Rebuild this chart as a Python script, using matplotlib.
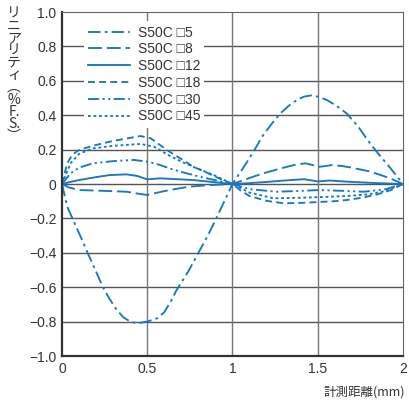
import numpy as np
import matplotlib
matplotlib.use('Agg')
import matplotlib.pyplot as plt

plt.rcParams['font.family'] = ['Liberation Sans', 'DejaVu Sans']
plt.rcParams['lines.scale_dashes'] = False

# data
x5 = [0, 0.03, 0.07, 0.12, 0.15, 0.20, 0.24, 0.28, 0.32, 0.36, 0.40, 0.44, 0.50, 0.56, 0.60, 0.64, 0.67,
      0.74, 0.80, 0.85, 0.90, 0.95, 1.0,
      1.04, 1.08, 1.13, 1.18, 1.23, 1.28, 1.33, 1.38, 1.42, 1.46, 1.50, 1.55, 1.61, 1.67, 1.74, 1.80, 1.86,
      1.92, 1.96, 2.0]
y5 = [0, -0.13, -0.22, -0.33, -0.40, -0.51, -0.60, -0.67, -0.73, -0.775, -0.80, -0.81, -0.80, -0.78, -0.745,
      -0.68, -0.62, -0.51, -0.40, -0.31, -0.21, -0.105, 0,
      0.06, 0.12, 0.20, 0.285, 0.35, 0.41, 0.455, 0.49, 0.508, 0.515, 0.508, 0.49, 0.455, 0.41, 0.33, 0.245,
      0.17, 0.10, 0.05, 0]

x8 = [0, 0.04, 0.1, 0.25, 0.38, 0.44, 0.5, 0.56, 0.63, 0.75, 0.87, 1.0, 1.1, 1.18, 1.30, 1.38, 1.43, 1.47,
      1.51, 1.55, 1.58, 1.64, 1.70, 1.81, 1.92, 2.0]
y8 = [0, -0.02, -0.035, -0.04, -0.045, -0.055, -0.064, -0.05, -0.035, -0.015, -0.006, 0, 0.035, 0.062,
      0.095, 0.115, 0.12, 0.11, 0.10, 0.105, 0.11, 0.105, 0.095, 0.072, 0.035, 0]

x12 = [0, 0.05, 0.1, 0.2, 0.28, 0.38, 0.44, 0.5, 0.575, 0.77, 0.9, 1.0, 1.1, 1.2, 1.3, 1.42, 1.5, 1.57,
       1.7, 1.85, 2.0]
y12 = [0, 0.012, 0.023, 0.04, 0.052, 0.056, 0.047, 0.027, 0.033, 0.023, 0.01, 0, 0.005, 0.012, 0.02,
       0.028, 0.015, 0.02, 0.012, 0.005, 0]

x18 = [0, 0.03, 0.06, 0.1, 0.18, 0.28, 0.37, 0.46, 0.52, 0.57, 0.63, 0.70, 0.77, 0.84, 0.9, 1.0, 1.05,
       1.1, 1.2, 1.3, 1.4, 1.5, 1.6, 1.67, 1.76, 1.85, 1.93, 2.0]
y18 = [0, 0.12, 0.17, 0.198, 0.222, 0.246, 0.263, 0.279, 0.266, 0.23, 0.188, 0.145, 0.10, 0.07, 0.042, 0,
       -0.04, -0.07, -0.098, -0.112, -0.11, -0.105, -0.10, -0.093, -0.08, -0.06, -0.035, 0]

x30 = [0, 0.05, 0.1, 0.18, 0.3, 0.42, 0.5, 0.57, 0.63, 0.72, 0.81, 0.9, 1.0, 1.1, 1.26, 1.4, 1.51, 1.65,
       1.77, 1.9, 2.0]
y30 = [0, 0.062, 0.095, 0.12, 0.133, 0.14, 0.13, 0.112, 0.091, 0.065, 0.042, 0.022, 0, -0.03, -0.045,
       -0.04, -0.035, -0.04, -0.045, -0.03, 0]

x45 = [0, 0.05, 0.1, 0.18, 0.3, 0.46, 0.54, 0.62, 0.7, 0.77, 0.89, 1.0, 1.1, 1.24, 1.4, 1.57, 1.7, 1.8,
       1.9, 2.0]
y45 = [0, 0.12, 0.175, 0.207, 0.222, 0.233, 0.217, 0.17, 0.13, 0.10, 0.052, 0, -0.05, -0.083, -0.08,
       -0.074, -0.068, -0.06, -0.04, 0]

labels = ['S50C □5', 'S50C □8', 'S50C □12', 'S50C □18', 'S50C □30', 'S50C □45']
series = [(x5, y5), (x8, y8), (x12, y12), (x18, y18), (x30, y30), (x45, y45)]
styles = [(0, (9, 3, 2, 3)), (0, (10, 3.5)), '-', (0, (5, 3)),
          (0, (8, 2.5, 1.5, 2.5, 1.5, 2.5)), (0, (2, 2))]

ylabel_chars = ['リ', 'ニ', 'ア', 'リ', 'テ', 'ィ', '︵', '%', 'F.', 'S.', '︶']

blue = '#1878c0'
txt = '#333333'
jp = ['Noto Sans CJK JP', 'DejaVu Sans']

fig = plt.figure(figsize=(4.1, 4.01), dpi=100)
ax = fig.add_axes([62/410, 1-356/401, 341/410, 344/401])

for (xs, ys), ls, lab in zip(series, styles, labels):
    ax.plot(xs, ys, color=blue, lw=1.35, linestyle=ls, label=lab,
            solid_joinstyle='round', dash_joinstyle='round')

ax.set_xlim(0, 2)
ax.set_ylim(-1.0, 1.0)
ax.set_xticks([0, 0.5, 1, 1.5, 2])
ax.set_xticklabels(['0', '0.5', '1', '1.5', '2'])
yt = np.round(np.arange(-1.0, 1.01, 0.2), 1)
ax.set_yticks(yt)
ax.set_yticklabels(['0' if v == 0 else ('%.1f' % v).replace('-', '\u2212') for v in yt])
ax.tick_params(length=0, labelsize=10, colors=txt, pad=4)

for v in [-0.8, -0.6, -0.4, -0.2, 0, 0.2, 0.4, 0.6, 0.8]:
    ax.axhline(v, color='#555555', lw=1.0, zorder=0)
for v in [0.5, 1, 1.5]:
    ax.axvline(v, color='#777777', lw=1.0, zorder=0)

ax.spines['left'].set_color('#333333')
ax.spines['bottom'].set_color('#333333')
ax.spines['left'].set_linewidth(1.6)
ax.spines['bottom'].set_linewidth(1.6)
ax.spines['top'].set_color('#666666')
ax.spines['right'].set_color('#666666')

leg = ax.legend(loc='upper left', bbox_to_anchor=(0.045, 0.993), fontsize=10,
                handlelength=3.0, handletextpad=0.55, labelspacing=0.2,
                borderpad=0.3, frameon=True, fancybox=False)
leg.get_frame().set_facecolor('white')
leg.get_frame().set_edgecolor('none')
leg.get_frame().set_alpha(1)
for t in leg.get_texts():
    t.set_color(txt)

fig.text(405/410, 1-392/401, '計測距離(mm)', ha='right', va='center', fontsize=9,
         color=txt, family=jp)

# vertical (stacked) y label
fig.text(14/410, 1-7/401, '\n'.join(ylabel_chars), ha='center', va='top', fontsize=10,
         multialignment='center', linespacing=0.84, color=txt, family=jp)

fig.savefig('out.png', dpi=100)
